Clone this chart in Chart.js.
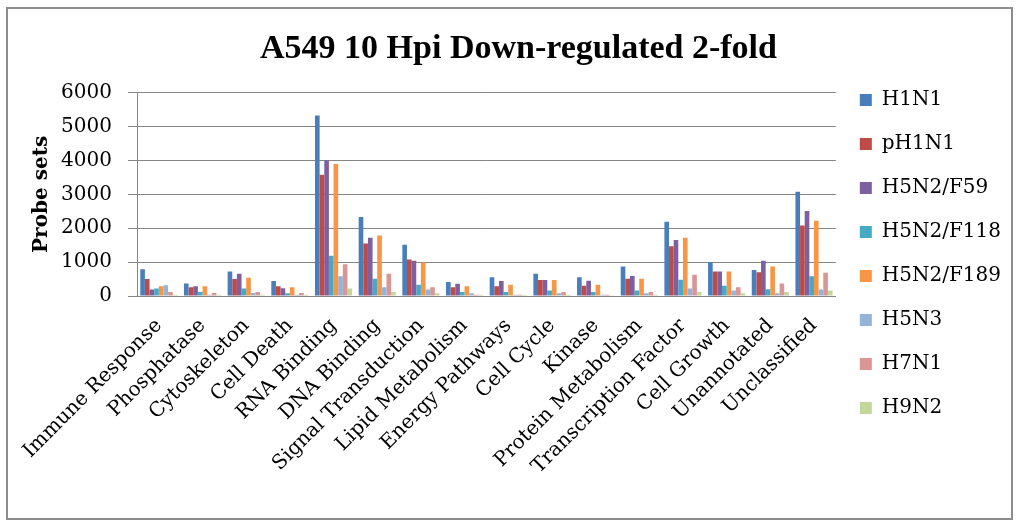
<!DOCTYPE html>
<html>
<head>
<meta charset="utf-8">
<title>A549 10 Hpi Down-regulated 2-fold</title>
<script src="https://cdn.jsdelivr.net/npm/chart.js@4.4.1/dist/chart.umd.min.js"></script>
<style>
  html, body { margin: 0; padding: 0; background: #ffffff; }
  #wrap { position: relative; width: 1020px; height: 527px; }
  #frame {
    position: absolute; left: 6px; top: 7px; width: 1007px; height: 513px;
    box-sizing: border-box; border: 2px solid #8d8d8d; pointer-events: none;
  }
  canvas { display: block; }
</style>
</head>
<body>
<div id="wrap">
  <canvas id="chart" width="1020" height="527"></canvas>
  <div id="frame"></div>
</div>
<script>
// Functional categories on the x axis
const categories = [
  "Immune Response", "Phosphatase", "Cytoskeleton", "Cell Death", "RNA Binding",
  "DNA Binding", "Signal Transduction", "Lipid Metabolism", "Energy Pathways",
  "Cell Cycle", "Kinase", "Protein Metabolism", "Transcription Factor",
  "Cell Growth", "Unannotated", "Unclassified"
];

// Probe sets down-regulated 2-fold per virus strain
const h1n1     = [790, 370, 720, 440, 5330, 2330, 1510, 410, 550, 660, 550, 870, 2190, 1000, 770, 3080];
const ph1n1    = [500, 260, 500, 290, 3580, 1550, 1080, 260, 290, 470, 300, 510, 1470, 720, 700, 2080];
const h5n2F59  = [190, 290, 660, 230, 4000, 1720, 1040, 360, 440, 470, 450, 590, 1650, 720, 1040, 2510];
const h5n2F118 = [220, 120, 220, 80, 1190, 510, 330, 120, 120, 160, 120, 160, 480, 300, 200, 580];
const h5n2F189 = [290, 290, 540, 260, 3900, 1790, 990, 290, 330, 470, 330, 510, 1720, 720, 870, 2220];
const h5n3     = [320, 40, 90, 40, 580, 260, 190, 80, 40, 80, 40, 80, 220, 160, 80, 190];
const h7n1     = [120, 90, 120, 90, 940, 660, 260, 40, 40, 120, 40, 120, 630, 260, 370, 690];
const h9n2     = [40, 40, 40, 40, 220, 120, 80, 40, 30, 40, 20, 40, 120, 80, 120, 160];

const seriesNames = ["H1N1", "pH1N1", "H5N2/F59", "H5N2/F118", "H5N2/F189", "H5N3", "H7N1", "H9N2"];
const seriesValues = [h1n1, ph1n1, h5n2F59, h5n2F118, h5n2F189, h5n3, h7n1, h9n2];
const seriesColors = ["#4a7ebb", "#be4b48", "#7d60a0", "#46aac5", "#f79646", "#95b3d7", "#d99694", "#c3d69b"];

// Y axis ticks
const yTicks = [0, 1000, 2000, 3000, 4000, 5000, 6000];

const axisGray = "#868686";
const serif = "'DejaVu Serif', serif";

const datasets = seriesNames.map((name, i) => ({
  label: name,
  data: seriesValues[i],
  backgroundColor: seriesColors[i],
  borderWidth: 0,
  categoryPercentage: 0.85,
  barPercentage: 1.0
}));

new Chart(document.getElementById("chart"), {
  type: "bar",
  data: { labels: categories, datasets: datasets },
  options: {
    responsive: false,
    animation: false,
    devicePixelRatio: 1,
    layout: { padding: { left: 26, right: 9, top: 0, bottom: 19 } },
    plugins: {
      title: {
        display: true,
        text: "A549 10 Hpi Down-regulated 2-fold",
        color: "#000000",
        font: { family: "'Liberation Serif', 'Times New Roman', serif", size: 34, weight: "bold" },
        padding: { top: 29, bottom: 23 }
      },
      legend: {
        position: "right",
        align: "center",
        labels: {
          color: "#000000",
          font: { family: serif, size: 20 },
          boxWidth: 12,
          boxHeight: 12,
          padding: 24
        }
      },
      tooltip: { enabled: false }
    },
    scales: {
      x: {
        grid: { display: false, drawTicks: false },
        border: { display: true, color: axisGray, width: 1 },
        ticks: {
          autoSkip: false,
          maxRotation: 45,
          minRotation: 45,
          padding: 18,
          color: "#000000",
          font: { family: serif, size: 20 }
        },
        afterFit(axis) { axis.height = 212; }
      },
      y: {
        min: 0,
        max: 6000,
        afterBuildTicks(axis) { axis.ticks = yTicks.map(v => ({ value: v })); },
        afterFit(axis) { axis.width = 111; },
        grid: { color: axisGray, lineWidth: 1, drawTicks: true, tickLength: 9, tickColor: axisGray },
        border: { display: true, color: axisGray, width: 1 },
        ticks: {
          padding: 16,
          color: "#000000",
          font: { family: serif, size: 20 },
          callback: (value) => String(value)
        },
        title: {
          display: true,
          text: "Probe sets",
          color: "#000000",
          font: { family: serif, size: 20, weight: "bold" },
          padding: { top: 4, bottom: 8 }
        }
      }
    }
  }
});
</script>
</body>
</html>
